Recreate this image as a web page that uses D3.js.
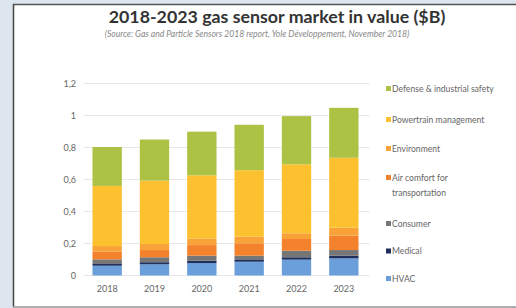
<!DOCTYPE html>
<html>
<head>
<meta charset="utf-8">
<title>Gas sensor market</title>
<script src="https://d3js.org/d3.v7.min.js"></script>
<style>
	html, body { margin:0; padding:0; background:#dde5ef; }
	svg { display:block; }
	text { font-family: Lato, "Open Sans", sans-serif; }
</style>
</head>
<body>
<svg id="chart" width="516" height="308"></svg>
<script>
// values, $B
var years = ["2018", "2019", "2020", "2021", "2022", "2023"];
var hvac        = [0.061, 0.070, 0.077, 0.086, 0.099, 0.107];
var medical     = [0.011, 0.013, 0.015, 0.015, 0.015, 0.017];
var consumer    = [0.029, 0.031, 0.032, 0.023, 0.041, 0.035];
var airComfort  = [0.048, 0.045, 0.066, 0.077, 0.073, 0.090];
var environment = [0.035, 0.038, 0.040, 0.042, 0.036, 0.050];
var powertrain  = [0.376, 0.396, 0.396, 0.415, 0.431, 0.437];
var defense     = [0.243, 0.257, 0.273, 0.284, 0.301, 0.312];
var yTicks = [0, 0.2, 0.4, 0.6, 0.8, 1, 1.2];

// bottom to top
var series = [
	{name: "HVAC", vals: hvac, color: "#6a9fdc"},
	{name: "Medical", vals: medical, color: "#1f2f5e"},
	{name: "Consumer", vals: consumer, color: "#767676"},
	{name: "Air comfort for transportation", vals: airComfort, color: "#f4812c"},
	{name: "Environment", vals: environment, color: "#f8a238"},
	{name: "Powertrain management", vals: powertrain, color: "#fdc02f"},
	{name: "Defense & industrial safety", vals: defense, color: "#abc244"}
];

var svg = d3.select("#chart");

// white panel
svg.append("rect").attr("x", 13).attr("y", 4).attr("width", 510).attr("height", 303)
	.attr("fill", "#fff");
svg.append("line").attr("x1", 13).attr("x2", 516).attr("y1", 4.5).attr("y2", 4.5)
	.attr("stroke", "#555").attr("stroke-width", 1.5);
svg.append("line").attr("x1", 13.5).attr("x2", 13.5).attr("y1", 4).attr("y2", 307)
	.attr("stroke", "#444").attr("stroke-width", 1.5);
svg.append("line").attr("x1", 13).attr("x2", 516).attr("y1", 307).attr("y2", 307)
	.attr("stroke", "#999").attr("stroke-width", 1.5);

svg.append("text").attr("x", 277).attr("y", 23).attr("text-anchor", "middle")
	.attr("font-size", 17.8).attr("font-weight", "bold").attr("fill", "#333")
	.text("2018-2023 gas sensor market in value ($B)");
svg.append("text").attr("x", 257).attr("y", 37).attr("text-anchor", "middle")
	.attr("font-size", 8.6).attr("font-style", "italic").attr("fill", "#888")
	.text("(Source: Gas and Particle Sensors 2018 report, Yole Développement, November 2018)");

var x = d3.scaleBand().domain(years).range([83.5, 367.5]).paddingInner(0.38).paddingOuter(0.19);
var y = d3.scaleLinear().domain([0, 1.2]).range([275.5, 83.5]);

// grid
svg.append("g").selectAll("line").data(yTicks).enter().append("line")
	.attr("x1", 84).attr("x2", 370)
	.attr("y1", function(d){ return y(d); }).attr("y2", function(d){ return y(d); })
	.attr("stroke", "#e8e8e8").attr("stroke-width", 1);

var yAxis = d3.axisLeft(y).tickValues(yTicks).tickSize(0).tickPadding(0)
	.tickFormat(function(d){ return String(d).replace(".", ","); });
svg.append("g").attr("transform", "translate(76,0)").call(yAxis)
	.call(function(g){ g.select(".domain").remove(); })
	.selectAll("text").attr("font-size", 9).attr("fill", "#666")
	.style("font-family", "Lato, sans-serif");

var xAxis = d3.axisBottom(x).tickSize(0).tickPadding(0);
svg.append("g").attr("transform", "translate(0,286)").call(xAxis)
	.call(function(g){ g.select(".domain").remove(); })
	.selectAll("text").attr("font-size", 9).attr("fill", "#666")
	.style("font-family", "Lato, sans-serif");

// stack
var rows = years.map(function(yr, i){
	var r = {year: yr};
	series.forEach(function(s){ r[s.name] = s.vals[i]; });
	return r;
});
var stacked = d3.stack().keys(series.map(function(s){ return s.name; }))(rows);

svg.append("g").selectAll("g").data(stacked).enter().append("g")
	.attr("fill", function(d, i){ return series[i].color; })
	.selectAll("rect").data(function(d){ return d; }).enter().append("rect")
	.attr("x", function(d){ return x(d.data.year); })
	.attr("width", x.bandwidth())
	.attr("y", function(d){ return y(d[1]); })
	.attr("height", function(d){ return y(d[0]) - y(d[1]); });

// legend, top to bottom
var legendY = [89, 120, 149, 178, 224, 251.5, 279];
var legend = series.slice().reverse();
var lg = svg.append("g").selectAll("g").data(legend).enter().append("g")
	.attr("transform", function(d, i){ return "translate(386," + legendY[i] + ")"; });
lg.append("rect").attr("x", 0).attr("y", -3).attr("width", 5).attr("height", 5)
	.attr("fill", function(d){ return d.color; });
lg.append("text").attr("x", 6).attr("y", 0).attr("dy", "0.33em")
	.attr("font-size", 8.6).attr("fill", "#666")
	.each(function(d){
		var t = d3.select(this);
		if (d.name == "Air comfort for transportation") {
			t.append("tspan").attr("x", 6).text("Air comfort for");
			t.append("tspan").attr("x", 6).attr("dy", 15).text("transportation");
		} else {
			t.text(d.name);
		}
	});
</script>
</body>
</html>
